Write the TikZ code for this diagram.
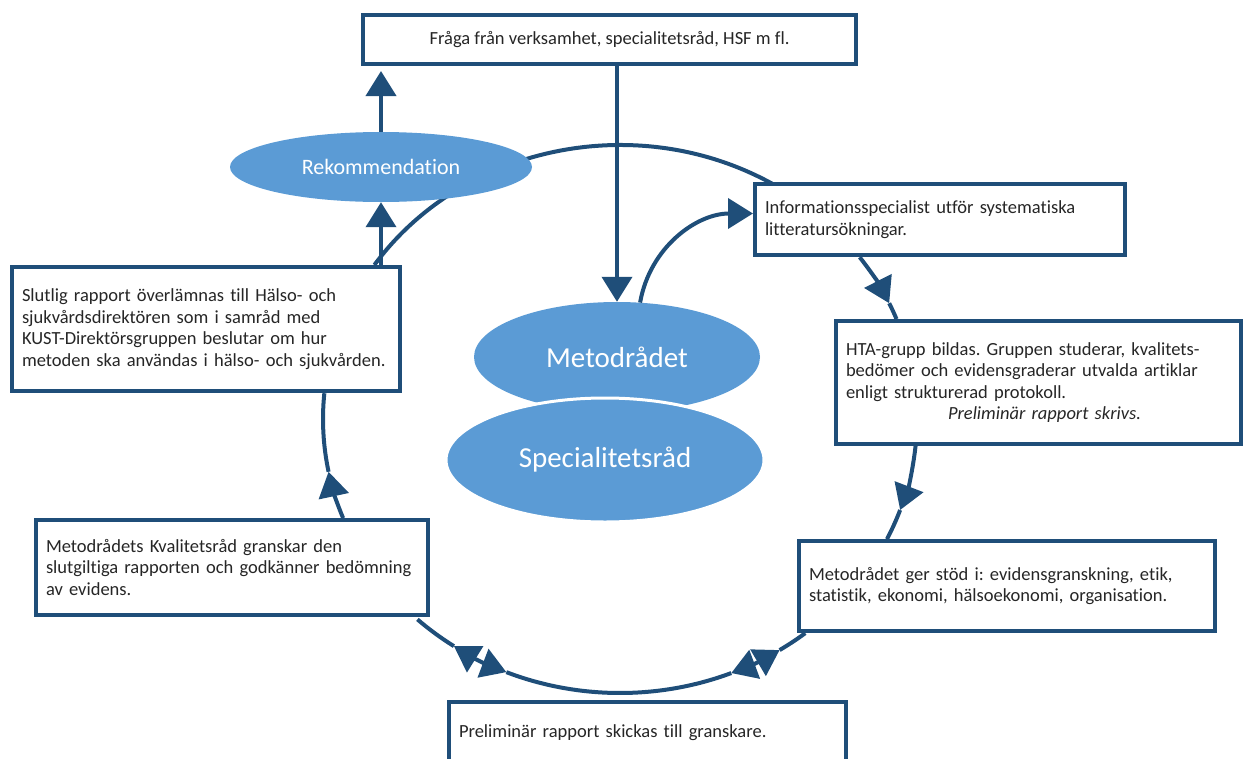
\documentclass[tikz,border=0pt]{standalone}
\usepackage{fontspec}
\setmainfont{Carlito}[Ligatures={NoCommon}]
\usepackage{tikz}
\usetikzlibrary{arrows.meta, calc, positioning, shapes}
\definecolor{hsfblue}{HTML}{1F4E79}
\definecolor{blobblue}{HTML}{5B9BD5}
\newcommand{\boxfont}{\fontsize{18.5pt}{21.5pt}\selectfont}
\frenchspacing

\begin{document}
\begin{tikzpicture}[x=1pt, y=-1pt, >={Triangle[width=30pt, length=25pt]},
    textbox/.style={draw=hsfblue, line width=4pt, fill=white, rectangle, align=left, inner xsep=10pt, inner ysep=2pt, font=\boxfont, text=black!85},
    blobnode/.style={ellipse, fill=blobblue, text=white, inner sep=0pt},
    ringline/.style={draw=hsfblue, line width=4pt},
    ringr/.style={x radius=297pt, y radius=274pt},
    flow/.style={draw=hsfblue, line width=4pt, ->}]
    \useasboundingbox (0,0) rectangle (1245,758);

    % The big cycle behind the boxes
    \coordinate (ring) at (620,419);
    \foreach \a/\b in {145.8/58, 25/21.4, -19.4/-26, -51.4/-57.5, -68/-112.5, -124/-133, -168.9/-185.4}
        \draw[ringline] ($(ring)+(\a:297pt and 274pt)$) arc[ringr, start angle=\a, end angle=\b];
    \draw[ringline, ->] ($(ring)+(36.2:297pt and 274pt)$) arc[ringr, start angle=36.2, end angle=25];
    \draw[ringline, ->] ($(ring)+(-5.6:297pt and 274pt)$) arc[ringr, start angle=-5.6, end angle=-19.4];
    \draw[ringline, ->] ($(ring)+(-158.8:297pt and 274pt)$) arc[ringr, start angle=-158.8, end angle=-168.9];
    \draw[ringline, <->] ($(ring)+(-57.5:297pt and 274pt)$) arc[ringr, start angle=-57.5, end angle=-68];
    \draw[ringline, <->] ($(ring)+(-112.5:297pt and 274pt)$) arc[ringr, start angle=-112.5, end angle=-124];

    % Question
    \node[textbox, align=center, minimum width=493pt, minimum height=49pt] (fraga) at (609.5,39.5) {Fråga från verksamhet, specialitetsråd, HSF m fl.};

    % Steps round the cycle
    \node[textbox, text width=350pt, minimum height=71pt] (info) at (940,219.5) {Informationsspecialist utför systematiska\\litteratursökningar.};
    \node[textbox, text width=385pt, minimum height=123pt] (hta) at (1038.5,382.5) {HTA-grupp bildas. Gruppen studerar, kvalitets-\\bedömer och evidensgraderar utvalda artiklar\\enligt strukturerad protokoll.\\\hspace*{102pt}\textit{Preliminär rapport skrivs.}};
    \node[textbox, text width=396pt, minimum height=90pt] (stod) at (1007,586) {Metodrådet ger stöd i: evidensgranskning, etik,\\statistik, ekonomi, hälsoekonomi, organisation.};
    \node[textbox, text width=377pt, minimum height=62pt] (prel) at (647.5,733) {Preliminär rapport skickas till granskare.};
    \node[textbox, text width=372pt, minimum height=95pt] (kval) at (232,567.5) {Metodrådets Kvalitetsråd granskar den\\slutgiltiga rapporten och godkänner bedömning\\av evidens.};
    \node[textbox, text width=368pt, minimum height=124pt] (slut) at (206,329) {Slutlig rapport överlämnas till Hälso- och\\sjukvårdsdirektören som i samråd med\\KUST-Direktörsgruppen beslutar om hur\\metoden ska användas i hälso- och sjukvården.};

    % Ellipses
    \node[blobnode, minimum width=302pt, minimum height=70pt, font=\fontsize{22pt}{26pt}\selectfont] (rek) at (381,167) {Rekommendation};
    \node[blobnode, minimum width=286pt, minimum height=110pt, font=\fontsize{29pt}{34pt}\selectfont] (metod) at (617,357) {Metodrådet};
    \node[blobnode, draw=white, line width=3pt, minimum width=318pt, minimum height=124pt, font=\fontsize{29pt}{34pt}\selectfont] (spec) at (605,460) {Specialitetsråd};

    % Arrows
    \draw[flow, shorten >=5pt] (rek.north) -- (rek.north |- fraga.south);
    \draw[flow] (rek.south |- slut.north) -- (rek.south);
    \draw[flow] (metod.north |- fraga.south) -- (metod.north);
    \draw[flow] (metod.67) to[out=80, in=180] ([yshift=6pt]info.west);
\end{tikzpicture}
\end{document}
